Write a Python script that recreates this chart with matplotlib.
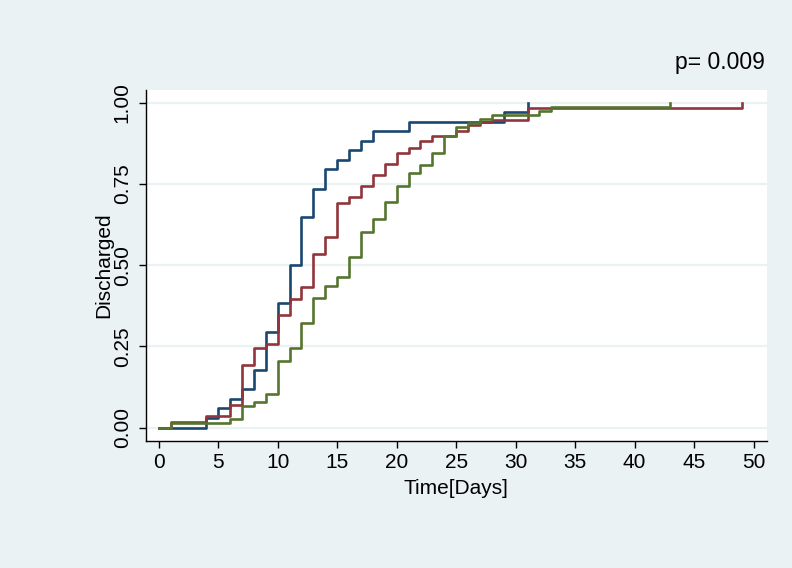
import numpy as np
import matplotlib.pyplot as plt

# step times (days) and cumulative proportion discharged
days_g1 = [0, 4, 5, 6, 7, 8, 9, 10, 11, 12, 13, 14, 15, 16, 17, 18, 21, 29, 31]
disc_g1 = [0.0, 0.030, 0.060, 0.089, 0.119, 0.178, 0.294, 0.384, 0.500, 0.648,
           0.735, 0.795, 0.825, 0.854, 0.883, 0.913, 0.942, 0.971, 1.0]

days_g2 = [0, 1, 4, 6, 7, 8, 9, 10, 11, 12, 13, 14, 15, 16, 17, 18, 19, 20,
           21, 22, 23, 25, 26, 27, 28, 31, 49]
disc_g2 = [0.0, 0.018, 0.035, 0.071, 0.192, 0.244, 0.258, 0.346, 0.397, 0.432,
           0.535, 0.588, 0.691, 0.709, 0.743, 0.776, 0.811, 0.846, 0.862, 0.881,
           0.898, 0.914, 0.930, 0.940, 0.947, 0.983, 1.0]

days_g3 = [0, 1, 6, 7, 8, 9, 10, 11, 12, 13, 14, 15, 16, 17, 18, 19, 20, 21,
           22, 23, 24, 25, 26, 27, 28, 32, 33, 43]
disc_g3 = [0.0, 0.013, 0.027, 0.066, 0.078, 0.105, 0.206, 0.244, 0.321, 0.398,
           0.436, 0.463, 0.526, 0.602, 0.641, 0.693, 0.745, 0.783, 0.807, 0.846,
           0.897, 0.924, 0.937, 0.951, 0.961, 0.975, 0.988, 1.0]

x_ticks = np.arange(0, 51, 5)
y_ticks = [0, 0.25, 0.5, 0.75, 1.0]
p_text = "p= 0.009"

bg = "#eaf2f3"
colors = ["#1a476f", "#90353b", "#55752f"]

plt.rcParams['font.family'] = ['Liberation Sans', 'DejaVu Sans']

fig = plt.figure(figsize=(7.92, 5.68), dpi=100, facecolor=bg)
ax = fig.add_axes([0.184, 0.2236, 0.784, 0.6179])
ax.set_facecolor("white")

# light horizontal grid
for y in y_ticks:
    ax.axhline(y, color=bg, lw=1.6, zorder=1)

ax.step(days_g1, disc_g1, where='post', color=colors[0], lw=1.9, zorder=3)
ax.step(days_g2, disc_g2, where='post', color=colors[1], lw=1.9, zorder=3)
ax.step(days_g3, disc_g3, where='post', color=colors[2], lw=1.9, zorder=3)

ax.set_xlim(-1.09, 51.1)
ax.set_ylim(-0.041, 1.039)

ax.spines['top'].set_visible(False)
ax.spines['right'].set_visible(False)
ax.spines['left'].set_linewidth(1.0)
ax.spines['bottom'].set_linewidth(1.0)

ax.set_xticks(x_ticks)
ax.set_xticklabels([str(t) for t in x_ticks], fontsize=15)
ax.set_yticks(y_ticks)
ax.set_yticklabels(["%.2f" % t for t in y_ticks], fontsize=15,
                   rotation=90, va='center')
ax.tick_params(axis='both', direction='out', length=5, width=1.0)
ax.tick_params(axis='x', pad=4)
ax.tick_params(axis='y', pad=5)

ax.set_xlabel("Time[Days]", fontsize=15, labelpad=5)
ax.set_ylabel("Discharged", fontsize=15, labelpad=0)

fig.text(765 / 792, 1 - 62 / 568, p_text, ha='right', va='center', fontsize=16.5)

fig.savefig("out.png", dpi=100, facecolor=bg)
